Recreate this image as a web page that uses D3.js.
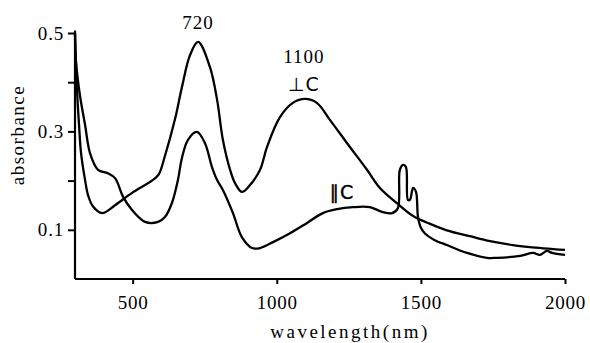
<!DOCTYPE html>
<html>
<head>
<meta charset="utf-8">
<script src="https://cdn.jsdelivr.net/npm/d3@7"></script>
<style>
  html, body { margin: 0; padding: 0; background: #fff; }
  svg { display: block; }
  text { font-family: "Liberation Serif", "DejaVu Serif", serif; fill: #000; }
</style>
</head>
<body>
<svg id="chart" width="590" height="343"></svg>
<script>
// wavelength (nm) and absorbance for the polarisation perpendicular to c
const perpWavelength = [300, 307, 314, 321, 335, 345, 362, 394, 439, 498, 567, 590, 612, 647, 671, 699, 727,
  768, 793, 813, 838, 855, 879, 907, 942, 966, 1011, 1056, 1098, 1139, 1185, 1244, 1313, 1358, 1417,
  1473, 1532, 1590, 1670, 1740, 1819, 1878, 2000];
const perpAbsorbance = [0.500, 0.384, 0.313, 0.256, 0.201, 0.171, 0.148, 0.134, 0.150, 0.175, 0.200, 0.212, 0.250, 0.325, 0.390, 0.455, 0.482,
  0.431, 0.364, 0.283, 0.222, 0.195, 0.177, 0.191, 0.222, 0.268, 0.329, 0.358, 0.366, 0.358, 0.323, 0.276, 0.222, 0.185, 0.154,
  0.128, 0.112, 0.099, 0.087, 0.077, 0.069, 0.065, 0.059];

// wavelength (nm) and absorbance for the polarisation parallel to c
const paraWavelength = [300, 303, 317, 335, 352, 380, 414, 439, 467, 498, 543, 588, 612, 636, 657, 671, 692, 723,
  751, 775, 793, 813, 848, 879, 914, 942, 987, 1046, 1105, 1160, 1209, 1264, 1323, 1368, 1400, 1420,
  1427, 1438, 1448, 1455, 1462, 1473, 1483, 1490, 1500, 1515, 1545, 1590, 1660, 1729, 1764, 1844, 1889, 1913, 1937, 1955, 2000];
const paraAbsorbance = [0.500, 0.445, 0.374, 0.313, 0.256, 0.222, 0.215, 0.205, 0.167, 0.140, 0.116, 0.116, 0.126, 0.154, 0.201, 0.246, 0.283, 0.299,
  0.276, 0.228, 0.201, 0.181, 0.134, 0.085, 0.063, 0.063, 0.075, 0.093, 0.114, 0.134, 0.142, 0.146, 0.146, 0.136, 0.134, 0.144,
  0.222, 0.232, 0.228, 0.161, 0.161, 0.185, 0.177, 0.126, 0.104, 0.092, 0.080, 0.069, 0.053, 0.043, 0.043, 0.047, 0.053, 0.049, 0.057, 0.053, 0.049];

const xTicks = [500, 1000, 1500, 2000];
const xTickLabels = ["500", "1000", "1500", "2000"];
const yTicks = [0.1, 0.2, 0.3, 0.4, 0.5];
const yTickLabels = ["0.1", "", "0.3", "", "0.5"];

// annotations: [text, wavelength, absorbance, font, outline width]
const annotations = [
  ["720", 727, 0.508, "Liberation Serif", 0],
  ["1100", 1094, 0.439, "Liberation Serif", 0],
  ["\u22A5C", 1094, 0.382, "DejaVu Sans", 0],
  ["\u2225C", 1226, 0.163, "DejaVu Sans", 0.4]
];

const svg = d3.select("#chart");
const x = d3.scaleLinear().domain([300, 2000]).range([75, 565]);
const y = d3.scaleLinear().domain([0, 0.5]).range([279, 33]);

// axes
const xAxis = d3.axisBottom(x).tickValues(xTicks)
  .tickFormat((d, i) => xTickLabels[i]).tickSize(5).tickPadding(12);
const gx = svg.append("g").attr("transform", `translate(0,${y(0)})`).call(xAxis);
gx.attr("font-size", null).attr("font-family", null);
gx.select(".domain").attr("d", `M${x(300)},0H${x(2000)}`).attr("stroke", "#000").attr("stroke-width", 2.2);
gx.selectAll(".tick line").attr("stroke", "#000").attr("stroke-width", 2);
gx.selectAll(".tick text").style("font-family", "Liberation Serif, serif")
  .style("font-size", "19px").attr("letter-spacing", "0.8px").attr("fill", "#000");

const yAxis = d3.axisLeft(y).tickValues(yTicks)
  .tickFormat((d, i) => yTickLabels[i]).tickSize(7).tickPadding(4);
const gy = svg.append("g").attr("transform", `translate(${x(300)},0)`).call(yAxis);
gy.attr("font-size", null).attr("font-family", null);
gy.select(".domain").attr("d", `M0,${y(0.505)}V${y(0)}`).attr("stroke", "#000").attr("stroke-width", 2.2);
gy.selectAll(".tick line").attr("stroke", "#000").attr("stroke-width", 2);
gy.selectAll(".tick text").style("font-family", "Liberation Serif, serif")
  .style("font-size", "19px").attr("letter-spacing", "0.8px").attr("fill", "#000");

// curves
const lineGen = d3.line().x(d => x(d[0])).y(d => y(d[1])).curve(d3.curveCatmullRom.alpha(0.5));

const perp = perpWavelength.map((w, i) => [w, perpAbsorbance[i]]);
const para = paraWavelength.map((w, i) => [w, paraAbsorbance[i]]);

[perp, para].forEach(series => {
  svg.append("path").datum(series)
    .attr("d", lineGen)
    .attr("fill", "none")
    .attr("stroke", "#000")
    .attr("stroke-width", 2.3)
    .attr("stroke-linejoin", "round");
});

// annotations
annotations.forEach(a => {
  const t = svg.append("text")
    .attr("x", x(a[1])).attr("y", y(a[2]))
    .attr("text-anchor", "middle")
    .style("font-family", a[3])
    .style("font-size", "19px")
    .style("fill", "#000")
    .attr("letter-spacing", "1px")
    .text(a[0]);
  if (a[4] > 0) t.style("stroke", "#000").style("stroke-width", a[4] + "px");
});

// axis titles
svg.append("text")
  .attr("x", 350).attr("y", 338)
  .attr("text-anchor", "middle")
  .style("font-size", "19px")
  .attr("letter-spacing", "2.5px")
  .text("wavelength(nm)");

svg.append("text")
  .attr("transform", "translate(24,135) rotate(-90)")
  .attr("text-anchor", "middle")
  .style("font-size", "19px")
  .attr("letter-spacing", "1.5px")
  .text("absorbance");
</script>
</body>
</html>
